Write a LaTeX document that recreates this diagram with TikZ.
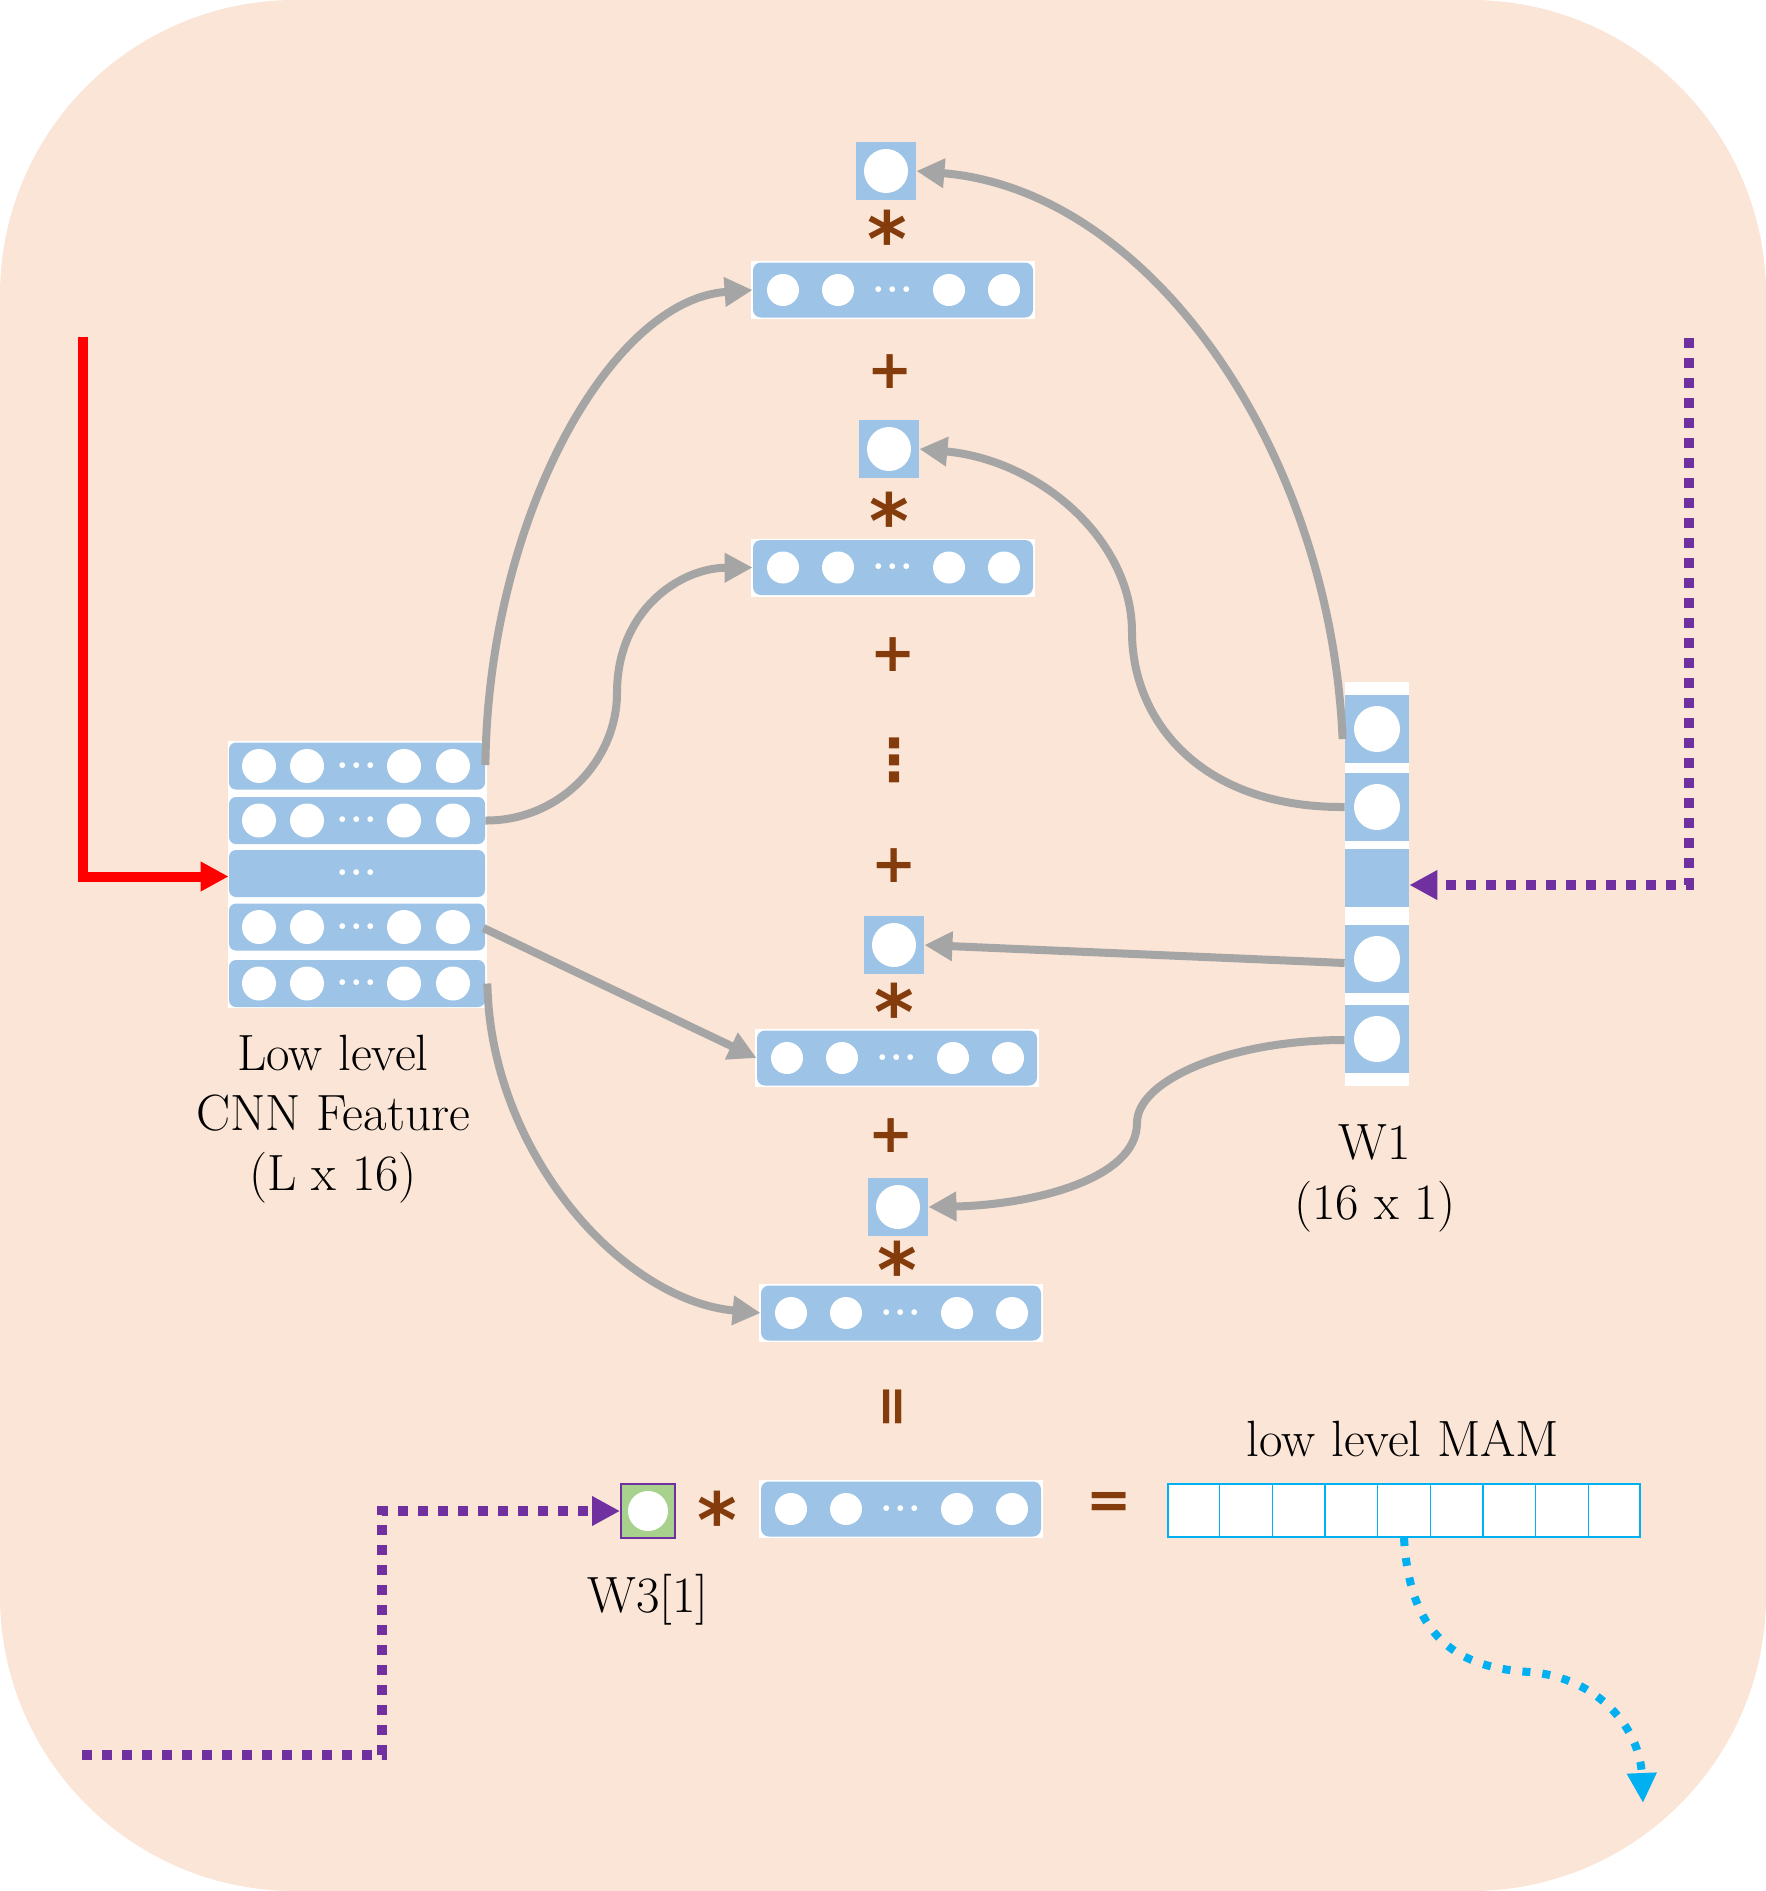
\documentclass[tikz,border=0pt]{standalone}
\usepackage{fontspec}
\newfontfamily\opfont{DejaVu Sans}
\usetikzlibrary{arrows.meta,calc}
\definecolor{bgpeach}{HTML}{FBE5D6}
\definecolor{cellblue}{HTML}{9DC3E6}
\definecolor{opbrown}{HTML}{843C0C}
\definecolor{arrgray}{HTML}{A5A5A5}
\definecolor{purp}{HTML}{7030A0}
\definecolor{cyanb}{HTML}{00B0F0}
\definecolor{wgreen}{HTML}{A9D18E}
\newcommand\mydots{\textbf{.\kern0.04em.\kern0.04em.}}
\newcommand\astk{\raisebox{-0.2em}[0.5em][0pt]{*}}
\newcommand\vecrow[3]{%
  \fill[white] (#2-142,#3-29) rectangle (#2+142,#3+29);
  \node[vecbox] (#1) at (#2,#3) {};
  \foreach \o in {-110,-55,56,111} \fill[white] (#2+\o,#3) circle (8pt);
  \node[dotlbl] (#1d) at (#2,#3+2) {\mydots};
}
\newcommand\stackrow[3]{%
  \node[rowbox] (#1) at (#2,#3) {};
  \foreach \o in {-98,-50,47,96} \fill[white] (#2+\o,#3) circle (8.5pt);
  \node[dotlbl] (#1d) at (#2,#3+2) {\mydots};
}
\newcommand\sqcell[3]{%
  \node[sqbox] (#1) at (#2,#3) {};
  \fill[white] (#1.center) circle (11pt);
}
\begin{document}
\begin{tikzpicture}[x=0.5pt,y=-0.5pt,
  vecbox/.style={fill=cellblue,rounded corners=4pt,minimum width=140pt,minimum height=27.5pt,inner sep=0pt},
  rowbox/.style={fill=cellblue,rounded corners=3.5pt,minimum width=128pt,minimum height=23.5pt,inner sep=0pt},
  sqbox/.style={fill=cellblue,minimum width=30pt,minimum height=29pt,inner sep=0pt},
  wcell/.style={fill=cellblue,minimum width=32pt,inner sep=0pt},
  dotlbl/.style={text=white,font=\fontsize{20}{20}\selectfont,anchor=base,inner sep=0pt},
  garrow/.style={draw=arrgray,line width=4pt,-{Triangle[length=14pt,width=14pt]}},
  pdot/.style={draw=purp,line width=5pt,dash pattern=on 5pt off 5pt,-{Triangle[length=14pt,width=14pt]}},
  cdot/.style={draw=cyanb,line width=4pt,dash pattern=on 4pt off 6pt,-{Triangle[length=15pt,width=14pt]}},
  opsym/.style={text=opbrown,font=\opfont\bfseries\fontsize{27}{27}\selectfont,inner sep=0pt},
  aster/.style={text=opbrown,font=\opfont\bfseries\fontsize{38}{38}\selectfont,inner sep=0pt},
  vdots/.style={text=opbrown,font=\opfont\bfseries\fontsize{29}{29}\selectfont,inner sep=0pt},
  lbl/.style={font=\fontsize{25.5}{30}\selectfont,align=center,inner sep=0pt}]
\fill[bgpeach, rounded corners=147.5pt] (0,0) rectangle (1766,1891);
\useasboundingbox (0,0) rectangle (1766,1891);

% left stack
\fill[white] (228,741) rectangle (487,1008);
\stackrow{r1}{357}{766}
\stackrow{r2}{357}{820.5}
\node[rowbox] (r3) at (357,873.5) {};
\node[dotlbl] (r3d) at (357,875.5) {\mydots};
\stackrow{r4}{357}{927}
\stackrow{r5}{357}{983.5}

% middle column
\sqcell{s1}{886}{171}
\vecrow{v1}{893}{290}
\sqcell{s2}{889}{449}
\vecrow{v2}{893}{567.5}
\sqcell{s3}{894}{945}
\vecrow{v3}{897}{1058}
\sqcell{s4}{898}{1207}
\vecrow{v4}{901}{1313}
\vecrow{vb}{901}{1509}

% operators
\node[aster] (m1) at (887,232) {\astk};
\node[opsym] (p1) at (890,372) {+};
\node[aster] (m2) at (889,514) {\astk};
\node[opsym] (p2) at (893,655) {+};
\node[vdots] (vd) at (894,760) {⋮};
\node[opsym] (p3) at (894,866) {+};
\node[aster] (m3) at (894,1005) {\astk};
\node[opsym] (p4) at (891,1136) {+};
\node[aster] (m4) at (897,1263) {\astk};
\node[opsym,rotate=90] (eqv) at (896,1407) {=};
\node[aster] (m5) at (717,1513) {\astk};
\node[opsym] (eqh) at (1109,1505) {=};

% W1
\fill[white] (1345,682) rectangle (1409,1086);
\node[wcell,minimum height=34pt] (c1) at (1377,729) {};
\node[wcell,minimum height=34pt] (c2) at (1377,807) {};
\node[wcell,minimum height=29pt] (c3) at (1377,878) {};
\node[wcell,minimum height=34pt] (c4) at (1377,959) {};
\node[wcell,minimum height=34pt] (c5) at (1377,1039) {};
\foreach \c in {c1,c2,c4,c5} \fill[white] (\c.center) circle (11.5pt);

% W3
\node[fill=wgreen,draw=purp,line width=1pt,minimum width=27pt,minimum height=27pt,inner sep=0pt] (w3) at (648,1511) {};
\fill[white] (w3.center) circle (10pt);

% MAM
\node[fill=white,draw=cyanb,line width=1pt,minimum width=236pt,minimum height=26.5pt,inner sep=0pt] (mam) at (1404,1510.5) {};
\foreach \i in {1,...,8}
  \draw[cyanb,line width=0.75pt] ($(mam.north west)!\i/9!(mam.north east)$) -- ($(mam.south west)!\i/9!(mam.south east)$);

% labels
\node[lbl] (lowlbl) at (333,1119) {Low level\\CNN Feature\\(L x 16)};
\node[lbl] (w1lbl) at (1375,1178) {W1\\(16 x 1)};
\node[lbl] (w3lbl) at (648,1600) {W3[1]};
\node[lbl] (mamlbl) at (1403,1439) {low level MAM};

% input arrows
\coordinate (redstart) at (83,337);
\draw[red,line width=5pt,-{Triangle[length=14pt,width=14pt]}] (redstart) |- ($(r3.west)+(0,3)$);
\coordinate (pstart) at (1689,338);
\draw[pdot] (pstart) |- ($(c3.east)+(0,7)$);
\coordinate (pbstart) at (82,1755);
\draw[pdot] (pbstart) -- ++(300,0) |- (w3.west);
\coordinate (cend) at (1643,1803);
\draw[cdot] (mam.south) .. controls (1410,1640) and (1460,1668) .. (1530,1672) .. controls (1600,1678) and (1640,1730) .. (cend);

% gray arrows
\draw[garrow] ($(c1.west)+(-2,10)$) .. controls (1330,450) and (1150,190) .. (s1.east);
\draw[garrow] (c2.west) .. controls (1200,808) and (1132,720) .. (1132,632) .. controls (1132,540) and (1040,460) .. (s2.east);
\draw[garrow] ($(c4.west)+(0,4)$) -- (s3.east);
\draw[garrow] ($(c5.west)+(0,1)$) .. controls (1230,1040) and (1137,1080) .. (1137,1123) .. controls (1137,1180) and (1030,1205) .. (s4.east);
\draw[garrow] ($(r1.east)+(0,-1)$) .. controls (488,520) and (610,300) .. (v1.west);
\draw[garrow] (r2.east) .. controls (560,821) and (617,760) .. (617,693) .. controls (617,610) and (680,568) .. (v2.west);
\draw[garrow] ($(r4.east)+(-2,1)$) -- (v3.west);
\draw[garrow] ($(r5.east)+(2,0)$) .. controls (490,1150) and (620,1300) .. (v4.west);
\end{tikzpicture}
\end{document}
